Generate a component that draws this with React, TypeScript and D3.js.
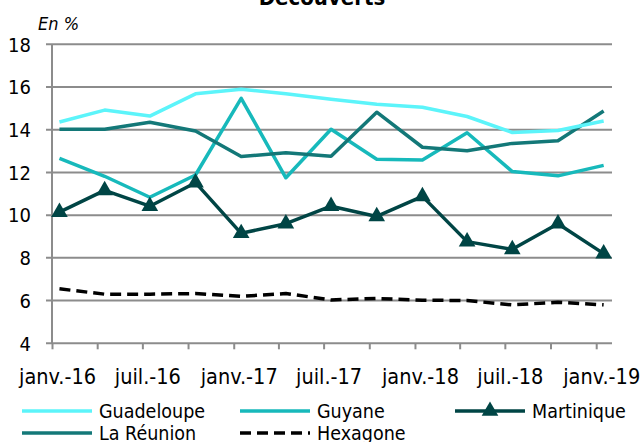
import React from "react"
import * as d3 from "d3"

// quarterly observations, janv.-16 .. janv.-19
const quarters = d3.range(13).map(i => new Date(2016, i * 3, 15))
const tickDates = d3.range(13).map(i => new Date(2016, i * 3, 1))
const labelDates = tickDates.filter((_, i) => i % 2 === 0)
const monthNames = ["janv.", "févr.", "mars", "avr.", "mai", "juin", "juil.", "août", "sept.", "oct.", "nov.", "déc."]
const yTicks = [4, 6, 8, 10, 12, 14, 16, 18]

const guadeloupe = [14.36, 14.92, 14.64, 15.68, 15.9, 15.68, 15.43, 15.19, 15.05, 14.62, 13.87, 13.96, 14.41]
const guyane = [12.66, 11.82, 10.84, 11.88, 15.47, 11.75, 14.02, 12.62, 12.58, 13.86, 12.04, 11.84, 12.33]
const martinique = [10.14, 11.16, 10.42, 11.52, 9.15, 9.6, 10.42, 9.94, 10.88, 8.76, 8.4, 9.6, 8.2]
const reunion = [14.02, 14.02, 14.35, 13.94, 12.75, 12.92, 12.76, 14.82, 13.18, 13.02, 13.36, 13.48, 14.88]
const hexagone = [6.55, 6.3, 6.3, 6.33, 6.2, 6.33, 6.03, 6.1, 6.02, 6.0, 5.8, 5.92, 5.8]

const FONT = "'DejaVu Sans', sans-serif"

type Series = { name: string, values: number[], color: string, dash?: string, marker?: boolean }

const series: Series[] = [
    { name: "Hexagone", values: hexagone, color: "#000000", dash: "11 6" },
    { name: "Guyane", values: guyane, color: "#17B9BB" },
    { name: "La Réunion", values: reunion, color: "#137878" },
    { name: "Guadeloupe", values: guadeloupe, color: "#5CF4FA" },
    { name: "Martinique", values: martinique, color: "#004545", marker: true },
]

export default function App() {
    const width = 643
    const height = 442

    const x = d3.scaleTime()
        .domain([tickDates[0], tickDates[tickDates.length - 1]])
        .range([52.5, 596.7])
    const y = d3.scaleLinear().domain([4, 18]).range([343.3, 44.3])

    const line = d3.line<number>()
        .x((_, i) => x(quarters[i]))
        .y(d => y(d))

    const triangle = d3.symbol().type(d3.symbolTriangle).size(120)

    const legend = [
        { s: series[3], lx: 22, ly: 411 },
        { s: series[1], lx: 240, ly: 411 },
        { s: series[4], lx: 455, ly: 411 },
        { s: series[2], lx: 22, ly: 433 },
        { s: series[0], lx: 240, ly: 433 },
    ]

    return (
        <svg width={width} height={height} style={{ position: "absolute", left: 0, top: 0, background: "#fff" }}
            fontFamily={FONT} fontStretch="condensed">
            <text x={322} y={5} textAnchor="middle" fontSize={22} fontWeight="bold">Découverts</text>
            <text x={38} y={30} fontSize={18} fontStyle="italic">En %</text>

            {yTicks.map(t => (
                <g key={t}>
                    {t > 4 && <line x1={46} x2={612} y1={y(t)} y2={y(t)} stroke="#8c8c8c" strokeWidth={2} />}
                    <text x={31} y={y(t)} dy="0.36em" textAnchor="end" fontSize={20}>{t}</text>
                </g>
            ))}
            <line x1={46} x2={612} y1={y(4)} y2={y(4)} stroke="#8c8c8c" strokeWidth={2} />
            <line x1={52} x2={52} y1={y(18)} y2={y(4)} stroke="#8c8c8c" strokeWidth={2} />
            {tickDates.map((d, i) => (
                <line key={i} x1={x(d)} x2={x(d)} y1={y(4)} y2={y(4) + 6} stroke="#8c8c8c" strokeWidth={2} />
            ))}
            {labelDates.map((d, i) => (
                <text key={i} x={x(d) + 5} y={384} textAnchor="middle" fontSize={21.5}>
                    {`${monthNames[d.getMonth()]}-${String(d.getFullYear()).slice(2)}`}
                </text>
            ))}

            {series.map(s => (
                <g key={s.name}>
                    <path d={line(s.values) || ""} fill="none" stroke={s.color} strokeWidth={3.5}
                        strokeDasharray={s.dash} strokeLinejoin="round" />
                    {s.marker && s.values.map((v, i) => (
                        <path key={i} d={triangle() || ""} fill={s.color}
                            transform={`translate(${x(quarters[i])},${y(v)})`} />
                    ))}
                </g>
            ))}

            {legend.map(({ s, lx, ly }) => (
                <g key={s.name}>
                    <line x1={lx} x2={lx + 70} y1={ly} y2={ly} stroke={s.color} strokeWidth={3.5}
                        strokeDasharray={s.dash} />
                    {s.marker && <path d={triangle() || ""} fill={s.color} transform={`translate(${lx + 35},${ly})`} />}
                    <text x={lx + 77} y={ly} dy="0.36em" fontSize={19.5}>{s.name}</text>
                </g>
            ))}
        </svg>
    )
}
